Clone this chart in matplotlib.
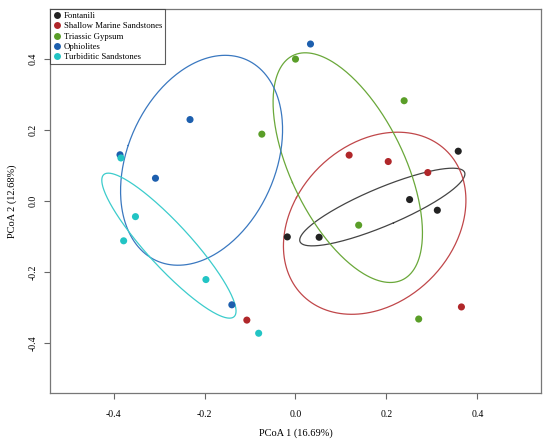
import numpy as np
import matplotlib
matplotlib.use("Agg")
import matplotlib.pyplot as plt
from matplotlib.lines import Line2D

plt.rcParams['font.family'] = ['Liberation Serif', 'DejaVu Serif']

groups = ["Fontanili", "Shallow Marine Sandstones", "Triassic Gypsum",
          "Ophiolites", "Turbiditic Sandstones"]
colors = ["#222222", "#b0272a", "#5a9e28", "#1d5fae", "#22c4c4"]
ellipse_colors = ["#444444", "#c0474a", "#6aa83a", "#3a78c0", "#3ccccc"]

fontanili_x = [-0.018, 0.052, 0.251, 0.312, 0.358]
fontanili_y = [-0.101, -0.102, 0.004, -0.026, 0.140]
shallow_x = [0.118, 0.204, 0.291, 0.365, -0.107]
shallow_y = [0.129, 0.111, 0.080, -0.298, -0.335]
triassic_x = [-0.074, 0.000, 0.239, 0.139, 0.271]
triassic_y = [0.188, 0.399, 0.282, -0.068, -0.332]
ophiolites_x = [-0.386, -0.232, -0.308, -0.140, 0.033]
ophiolites_y = [0.130, 0.229, 0.064, -0.292, 0.4415]
turbiditic_x = [-0.384, -0.352, -0.378, -0.197, -0.081]
turbiditic_y = [0.121, -0.044, -0.112, -0.221, -0.372]

xs = [fontanili_x, shallow_x, triassic_x, ophiolites_x, turbiditic_x]
ys = [fontanili_y, shallow_y, triassic_y, ophiolites_y, turbiditic_y]

ticks = [-0.4, -0.2, 0.0, 0.2, 0.4]
ellipse_scale = 1.1

fig = plt.figure(figsize=(5.5, 4.43), dpi=100)
ax = fig.add_axes([0.0909, 0.1129, 0.8927, 0.8668])

t = np.linspace(0, 2 * np.pi, 300)
for gx, gy, c, ec in zip(xs, ys, colors, ellipse_colors):
    gx = np.asarray(gx); gy = np.asarray(gy)
    cov = np.cov(gx, gy)
    vals, vecs = np.linalg.eigh(cov)
    circ = np.vstack([np.cos(t), np.sin(t)])
    pts = vecs @ (np.sqrt(vals)[:, None] * circ) * ellipse_scale
    ax.plot(gx.mean() + pts[0], gy.mean() + pts[1], color=ec, lw=0.9, zorder=2)

for gx, gy, c in zip(xs, ys, colors):
    ax.scatter(gx, gy, s=26, color=c, edgecolors='none', zorder=3)

ax.set_xlim(-0.54, 0.54)
ax.set_ylim(-0.54, 0.54)
ax.set_xticks(ticks)
ax.set_yticks(ticks)
ax.set_xticklabels([f"{v:.1f}" for v in ticks])
ax.set_yticklabels([f"{v:.1f}" for v in ticks], rotation=90, va='center')
ax.tick_params(direction='out', length=4, width=0.8, color='#666666',
               labelsize=7)
ax.tick_params(axis='x', pad=8)
ax.tick_params(axis='y', pad=5)
for sp in ax.spines.values():
    sp.set_color('#777777')
    sp.set_linewidth(0.9)

ax.set_xlabel("PCoA 1 (16.69%)", fontsize=7.5, labelpad=7)
ax.set_ylabel("PCoA 2 (12.68%)", fontsize=7.5, labelpad=8)

handles = [Line2D([0], [0], marker='o', linestyle='none', markersize=5,
                  markerfacecolor=c, markeredgecolor='none') for c in colors]
leg = ax.legend(handles, groups, loc='upper left', fontsize=6.3,
                frameon=True, fancybox=False, borderaxespad=0,
                handletextpad=0.2, handlelength=1.0, borderpad=0.35,
                labelspacing=0.25)
leg.get_frame().set_edgecolor('#333333')
leg.get_frame().set_linewidth(0.8)

fig.savefig("out.png", dpi=100)
